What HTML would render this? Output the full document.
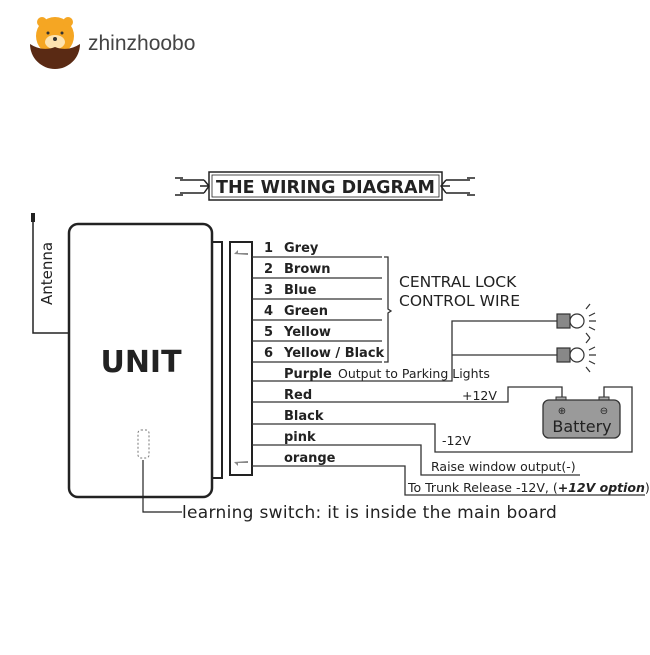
<!DOCTYPE html>
<html><head><style>
body{margin:0;background:#fff}
svg text{font-family:"DejaVu Sans","Liberation Sans",sans-serif;fill:#222}
</style></head><body>
<svg width="650" height="650" viewBox="0 0 650 650" xmlns="http://www.w3.org/2000/svg">
<!-- logo -->
<circle cx="55" cy="36" r="19" fill="#f5a623"/>
<circle cx="42" cy="22" r="5" fill="#f5a623"/>
<circle cx="68" cy="22" r="5" fill="#f5a623"/>
<ellipse cx="55" cy="42" rx="10" ry="7" fill="#fde3b0"/>
<circle cx="55" cy="39" r="2" fill="#333"/>
<circle cx="48" cy="33" r="1.5" fill="#333"/>
<circle cx="62" cy="33" r="1.5" fill="#333"/>
<path d="M30 44 Q42 52 55 47 Q68 52 80 44 A25 25 0 0 1 30 44Z" fill="#5a2a14"/>
<text x="88" y="50" font-size="21" style="fill:#444;font-family:'Liberation Sans',sans-serif">zhinzhoobo</text>
<!-- title -->
<g stroke="#222" fill="none" stroke-width="1.5">
<rect x="209" y="172" width="233" height="28"/>
<rect x="212" y="175" width="227" height="22" stroke-width="0.8"/>
<path d="M175 178 h8 M175 195 h8 M180 180 h24 M180 193 h24 M204 180 l5 6 l-5 7 M200 186 h9"/>
<path d="M475 178 h-8 M475 195 h-8 M470 180 h-24 M470 193 h-24 M446 180 l-5 6 l5 7 M450 186 h-9"/>
</g>
<text x="325.5" y="193" font-size="17.5" font-weight="bold" text-anchor="middle">THE WIRING DIAGRAM</text>
<!-- unit -->
<g stroke="#222" fill="none">
<rect x="69" y="224" width="143" height="273" rx="9" stroke-width="2.5"/>
<rect x="212" y="242" width="10" height="236" stroke-width="2"/>
<rect x="230" y="242" width="22" height="233" stroke-width="2"/>
<path d="M33 213 V333 H69" stroke-width="1.5"/>
<path d="M33 213 V222" stroke-width="4"/>
<rect x="138" y="430" width="11" height="28" rx="3" stroke-dasharray="2,2" stroke="#777"/>
<path d="M143 460 V512 H182" stroke-width="1.2"/>
</g>
<path d="M234 254 l4 -4 v3 h10 v2z M234 462 l4 4 v-3 h10 v-2z" fill="#888"/>
<text font-size="15" transform="translate(52,305) rotate(-90)">Antenna</text>
<text x="141" y="372" font-size="30" font-weight="bold" text-anchor="middle">UNIT</text>
<text x="182" y="518" font-size="17" letter-spacing="0.3">learning switch: it is  inside the main board</text>
<!-- wires -->
<g stroke="#333" stroke-width="1.3" fill="none">
<path d="M252 257H382 M252 278H382 M252 299H382 M252 320H382 M252 341H382 M252 362H382"/>
<path d="M384 257 h4 v52 l3 2 l-3 2 v49 h-4"/>
<path d="M252 381H452 V321 H557 M452 355 H557"/>
<path d="M252 402H508 V387 H562 V398"/>
<path d="M252 424H435 V452 H632 V387 H604 V398"/>
<path d="M252 445H421 V475 H580"/>
<path d="M252 466H405 V495 H645"/>
</g>
<g font-size="13" font-weight="bold">
<text x="264" y="252">1</text><text x="284" y="252">Grey</text>
<text x="264" y="273">2</text><text x="284" y="273">Brown</text>
<text x="264" y="294">3</text><text x="284" y="294">Blue</text>
<text x="264" y="315">4</text><text x="284" y="315">Green</text>
<text x="264" y="336">5</text><text x="284" y="336">Yellow</text>
<text x="264" y="357">6</text><text x="284" y="357">Yellow / Black</text>
<text x="284" y="378">Purple</text>
<text x="284" y="399">Red</text>
<text x="284" y="420">Black</text>
<text x="284" y="441">pink</text>
<text x="284" y="462">orange</text>
</g>
<g font-size="12.5">
<text x="338" y="378">Output to Parking Lights</text>
<text x="462" y="400">+12V</text>
<text x="442" y="445">-12V</text>
<text x="431" y="471">Raise window output(-)</text>
<text x="408" y="492">To Trunk Release -12V, (<tspan font-weight="bold" font-style="italic">+12V option</tspan>)</text>
</g>
<text x="399" y="287" font-size="15.5">CENTRAL LOCK</text>
<text x="399" y="306" font-size="15.5">CONTROL WIRE</text>
<!-- bulbs -->
<g stroke="#333" stroke-width="1.2">
<rect x="557" y="314" width="13" height="14" fill="#888"/>
<circle cx="577" cy="321" r="7" fill="#fff"/>
<rect x="557" y="348" width="13" height="14" fill="#888"/>
<circle cx="577" cy="355" r="7" fill="#fff"/>
<path d="M586 309l4-5 M589 316l6-3 M589 321h7 M589 327l6 3 M586 333l4 5 M586 343l4-5 M589 350l6-3 M589 355h7 M589 361l6 3 M586 367l4 5" fill="none"/>
</g>
<!-- battery -->
<rect x="556" y="397" width="10" height="5" fill="#aaa" stroke="#333"/>
<rect x="599" y="397" width="10" height="5" fill="#aaa" stroke="#333"/>
<rect x="543" y="400" width="77" height="38" rx="6" fill="#9a9a9a" stroke="#333" stroke-width="1.3"/>
<text x="562" y="414" font-size="10" text-anchor="middle">⊕</text>
<text x="604" y="414" font-size="10" text-anchor="middle">⊖</text>
<text x="582" y="432" font-size="16" text-anchor="middle">Battery</text>
</svg>
</body></html>
